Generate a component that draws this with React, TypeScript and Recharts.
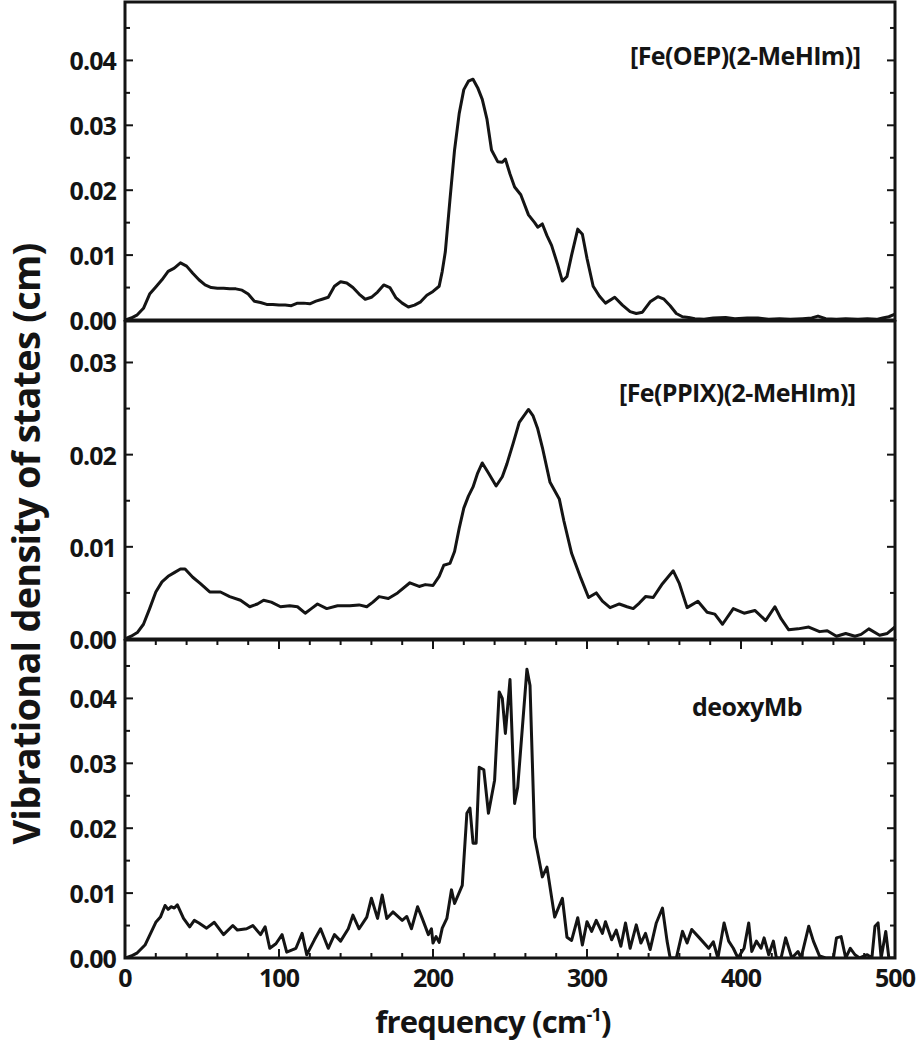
import React from "react";
import { LineChart, Line, XAxis, YAxis, ReferenceArea } from "recharts";

// frequency grid + VDOS values (cm^-1, cm)
const oepFreq = [0, 4, 8, 12, 16, 20, 24, 28, 32, 36, 40, 44, 48, 52, 56, 60, 64, 68, 72, 76, 80, 84, 88, 92, 96, 100, 104, 108, 112, 116, 120, 124, 128, 132, 136, 140, 144, 148, 152, 156, 160, 164, 168, 172, 176, 180, 184, 188, 192, 196, 200, 204, 206, 208, 211, 214, 217, 220, 223, 226, 229, 232, 235, 238, 242, 245, 247, 250, 253, 257, 262, 266, 268, 271, 274, 277, 281, 284, 287, 290, 294, 297, 300, 304, 308, 312, 318, 323, 328, 332, 336, 341, 346, 350, 354, 358, 362, 366, 370, 376, 382, 390, 396, 404, 411, 418, 425, 432, 440, 446, 450, 455, 462, 468, 476, 482, 488, 492, 496, 500];
const oepVdos = [0, 0.0003, 0.0008, 0.0018, 0.004, 0.0051, 0.0062, 0.0075, 0.008, 0.0088, 0.0083, 0.0072, 0.0062, 0.0054, 0.005, 0.0049, 0.0049, 0.0048, 0.0048, 0.0046, 0.004, 0.0029, 0.0027, 0.0024, 0.0024, 0.0023, 0.0023, 0.0022, 0.0026, 0.0026, 0.0025, 0.0029, 0.0032, 0.0035, 0.0052, 0.0059, 0.0057, 0.005, 0.004, 0.0032, 0.0035, 0.0043, 0.0054, 0.005, 0.0034, 0.0026, 0.002, 0.0023, 0.0028, 0.0038, 0.0044, 0.0052, 0.0075, 0.0105, 0.0185, 0.0262, 0.0318, 0.0355, 0.0368, 0.0371, 0.0358, 0.034, 0.031, 0.0262, 0.0244, 0.0243, 0.0248, 0.0225, 0.0205, 0.0193, 0.0162, 0.015, 0.0143, 0.0148, 0.013, 0.0115, 0.0085, 0.006, 0.0067, 0.01, 0.014, 0.0132, 0.0095, 0.0052, 0.0037, 0.0026, 0.0035, 0.0023, 0.0013, 0.001, 0.0012, 0.0028, 0.0036, 0.0032, 0.0022, 0.001, 0.0005, 0.0004, 0.0002, 0.0001, 0.0003, 0.0004, 0.0002, 0.0003, 0.0003, 0.0001, 0.0002, 0.0001, 0.0002, 0.0003, 0.0006, 0.0002, 0.0001, 0.0002, 0.0001, 0.0002, 0.0001, 0.0003, 0.0005, 0.0009];

const ppixFreq = [0, 4, 8, 12, 16, 20, 24, 28, 32, 36, 39, 44, 49, 55, 62, 68, 75, 81, 86, 90, 95, 101, 107, 112, 117, 121, 125, 131, 138, 146, 152, 157, 161, 165, 171, 177, 185, 191, 195, 200, 204, 207, 211, 214, 217, 220, 223, 226, 229, 232, 236, 241, 245, 248, 252, 256, 262, 265, 268, 271, 276, 282, 285, 290, 296, 301, 306, 310, 315, 321, 326, 330, 334, 338, 343, 349, 356, 360, 365, 372, 378, 383, 388, 395, 402, 409, 416, 422, 426, 431, 437, 444, 451, 456, 462, 468, 474, 478, 483, 490, 495, 500];
const ppixVdos = [0, 0.0003, 0.0007, 0.0016, 0.0033, 0.0051, 0.0062, 0.0068, 0.0072, 0.0076, 0.0076, 0.0067, 0.006, 0.0051, 0.0051, 0.0046, 0.0042, 0.0035, 0.0038, 0.0042, 0.004, 0.0035, 0.0036, 0.0035, 0.0028, 0.0033, 0.0038, 0.0033, 0.0036, 0.0036, 0.0037, 0.0035, 0.004, 0.0046, 0.0044, 0.005, 0.0061, 0.0057, 0.0059, 0.0058, 0.0068, 0.008, 0.0082, 0.0095, 0.012, 0.0142, 0.0155, 0.0165, 0.018, 0.0191, 0.018, 0.0166, 0.0176, 0.019, 0.0212, 0.0235, 0.0249, 0.0242, 0.0228, 0.0208, 0.017, 0.0152, 0.0128, 0.0093, 0.0066, 0.0045, 0.005, 0.0041, 0.0034, 0.0038, 0.0035, 0.0033, 0.0039, 0.0046, 0.0045, 0.006, 0.0074, 0.006, 0.0034, 0.0041, 0.0029, 0.0027, 0.0016, 0.0033, 0.0028, 0.0031, 0.002, 0.0035, 0.0022, 0.001, 0.0011, 0.0013, 0.0008, 0.0009, 0.0003, 0.0006, 0.0003, 0.0005, 0.0011, 0.0004, 0.0006, 0.0013];

const deoxyFreq = [0, 4, 8, 13, 17, 20, 23, 26, 28, 30, 32, 34, 38, 42, 45, 48, 53, 58, 64, 70, 73, 79, 83, 88, 91, 94, 98, 102, 105, 111, 115, 118, 123, 127, 132, 136, 140, 145, 148, 152, 157, 160, 164, 167, 170, 174, 180, 183, 186, 190, 193, 197, 199, 200, 202, 204, 206, 209, 212, 214, 219, 222, 224, 226, 228, 230, 233, 236, 240, 243, 245, 247, 250, 253, 255, 261, 263, 266, 271, 274, 279, 284, 287, 290, 294, 297, 300, 303, 306, 310, 312, 316, 319, 322, 325, 328, 332, 335, 338, 341, 345, 349, 352, 354, 358, 362, 365, 368, 373, 379, 382, 385, 389, 392, 395, 398, 402, 405, 407, 410, 413, 415, 418, 421, 423, 426, 429, 433, 437, 439, 444, 447, 451, 455, 460, 462, 465, 468, 471, 474, 477, 482, 485, 487, 489, 491, 494, 496, 499, 500];
const deoxyVdos = [0, 0.0003, 0.0008, 0.002, 0.004, 0.0055, 0.0063, 0.0081, 0.0075, 0.0079, 0.0077, 0.0082, 0.0061, 0.0048, 0.0058, 0.0054, 0.0046, 0.0055, 0.0036, 0.005, 0.0043, 0.0045, 0.005, 0.0036, 0.0048, 0.0015, 0.0022, 0.0036, 0.0009, 0.0015, 0.0038, 0.0005, 0.0028, 0.0045, 0.0015, 0.0036, 0.0026, 0.0045, 0.0066, 0.0045, 0.0063, 0.0092, 0.0061, 0.0097, 0.0061, 0.0071, 0.0058, 0.0064, 0.0045, 0.0079, 0.0061, 0.0036, 0.0045, 0.0023, 0.0033, 0.0024, 0.0046, 0.0061, 0.0105, 0.0084, 0.0112, 0.0223, 0.0231, 0.0177, 0.0177, 0.0294, 0.029, 0.0223, 0.0274, 0.041, 0.04, 0.0346, 0.0429, 0.0238, 0.0263, 0.0445, 0.042, 0.0186, 0.0125, 0.014, 0.0063, 0.0092, 0.0032, 0.0027, 0.0062, 0.002, 0.0056, 0.0041, 0.0058, 0.0038, 0.0056, 0.0028, 0.0043, 0.0018, 0.0054, 0.0015, 0.0051, 0.0023, 0.0038, 0.0013, 0.0054, 0.0077, 0.0026, 0, 0, 0.0041, 0.0023, 0.0044, 0.0031, 0.0015, 0.0025, 0, 0.0054, 0.0026, 0.0015, 0, 0.0015, 0.0054, 0.001, 0.0026, 0.0015, 0.0031, 0.0005, 0.0026, 0, 0, 0.0031, 0, 0.001, 0, 0.0049, 0.0026, 0.0003, 0, 0, 0.0031, 0.0033, 0, 0.0015, 0.0005, 0, 0.0005, 0, 0.0049, 0.0054, 0, 0.0041, 0, 0, 0];

const freqTicks = [0, 20, 40, 60, 80, 100, 120, 140, 160, 180, 200, 220, 240, 260, 280, 300, 320, 340, 360, 380, 400, 420, 440, 460, 480, 500];
const ticksTall = [0, 0.005, 0.01, 0.015, 0.02, 0.025, 0.03, 0.035, 0.04, 0.045];
const ticksShort = [0, 0.005, 0.01, 0.015, 0.02, 0.025, 0.03];

const INK = "#141414";
const FONT = "'Open Sans', 'DejaVu Sans', sans-serif";
const W = 917;
const Y_W = 125;
const PLOT_W = 770;
const PLOT_H = 318;
const MARGIN = 9;

const zip = (xs: number[], ys: number[]) => xs.map((f, i) => ({ f, v: ys[i] }));

const YTick = (p: any) => {
  const v = p.payload.value;
  const y = p.payload.coordinate;
  const ax = p.x + MARGIN;
  const major = Math.round(v * 1000) % 10 === 0;
  const len = major ? 8 : 5;
  return (
    <g>
      <line x1={ax} x2={ax + len} y1={y} y2={y} stroke={INK} strokeWidth={2} />
      <line x1={ax + PLOT_W} x2={ax + PLOT_W - len} y1={y} y2={y} stroke={INK} strokeWidth={2} />
      {major && (
        <text x={p.x} y={y} textAnchor="end" dominantBaseline="central" fontFamily={FONT}
          fontWeight={700} fontSize={25} letterSpacing={-0.9} fill={INK}>
          {v.toFixed(2)}
        </text>
      )}
    </g>
  );
};

const XTick = (p: any, showLabel: boolean) => {
  const v = p.payload.value;
  const x = p.payload.coordinate;
  const ay = p.y - MARGIN;
  const major = v % 100 === 0;
  const len = major ? 9 : 5;
  return (
    <g>
      <line x1={x} x2={x} y1={ay} y2={ay - len} stroke={INK} strokeWidth={2} />
      <line x1={x} x2={x} y1={ay - PLOT_H} y2={ay - PLOT_H + len} stroke={INK} strokeWidth={2} />
      {showLabel && major && (
        <text x={x} y={ay + 29} textAnchor="middle" fontFamily={FONT} fontWeight={700}
          fontSize={25} letterSpacing={-0.9} fill={INK}>
          {v}
        </text>
      )}
    </g>
  );
};

type PanelProps = {
  rows: { f: number; v: number }[];
  top: number;
  marginTop: number;
  yMax: number;
  yTicks: number[];
  xLabels?: boolean;
};

function Panel({ rows, top, marginTop, yMax, yTicks, xLabels }: PanelProps) {
  const axisH = xLabels ? 92 : 0;
  // extra bottom room so the "0.00" label is not clipped by the svg edge
  const padBottom = xLabels ? 0 : 22;
  return (
    <div style={{ position: "absolute", left: 0, top }}>
      <LineChart width={W} height={marginTop + PLOT_H + axisH + padBottom} data={rows}
        margin={{ top: marginTop, right: W - Y_W - PLOT_W, bottom: padBottom, left: 0 }}>
        <XAxis dataKey="f" type="number" domain={[0, 500]} ticks={freqTicks} interval={0}
          height={axisH} tickSize={0} tickMargin={MARGIN} axisLine={false} tickLine={false}
          allowDataOverflow tick={(p: any) => XTick(p, !!xLabels)} />
        <YAxis type="number" domain={[0, yMax]} ticks={yTicks} interval={0} width={Y_W}
          tickSize={0} tickMargin={MARGIN} axisLine={false} tickLine={false}
          allowDataOverflow tick={(p: any) => YTick(p)} />
        <ReferenceArea x1={0} x2={500} y1={0} y2={yMax} fill="none" stroke={INK} strokeWidth={3} />
        <Line dataKey="v" type="linear" stroke={INK} strokeWidth={3} dot={false}
          isAnimationActive={false} strokeLinejoin="round" />
      </LineChart>
    </div>
  );
}

export default function App() {
  const textStyle = { fontFamily: FONT, fontWeight: 700, fill: INK } as const;
  return (
    <div style={{ position: "absolute", left: 0, top: 0, width: W, height: 1050, background: "#fff" }}>
      <Panel rows={zip(oepFreq, oepVdos)} top={0} marginTop={2} yMax={0.049} yTicks={ticksTall} />
      <Panel rows={zip(ppixFreq, ppixVdos)} top={320} marginTop={1} yMax={0.0345} yTicks={ticksShort} />
      <Panel rows={zip(deoxyFreq, deoxyVdos)} top={639} marginTop={1} yMax={0.049} yTicks={ticksTall} xLabels />
      <svg width={W} height={1050} style={{ position: "absolute", left: 0, top: 0, pointerEvents: "none" }}>
        <text {...textStyle} x={630} y={65} fontSize={25} letterSpacing={-0.6}>[Fe(OEP)(2-MeHIm)]</text>
        <text {...textStyle} x={619} y={402} fontSize={25} letterSpacing={-0.6}>[Fe(PPIX)(2-MeHIm)]</text>
        <text {...textStyle} x={692} y={716} fontSize={25} letterSpacing={-0.6}>deoxyMb</text>
        <text {...textStyle} x={493} y={1033} fontSize={31} textAnchor="middle" letterSpacing={-0.8}>
          frequency (cm<tspan dy={-12} fontSize={18}>-1</tspan><tspan dy={12}>)</tspan>
        </text>
        <text {...textStyle} fontSize={38} textAnchor="middle" dominantBaseline="central" letterSpacing={-0.8}
          transform="translate(25 544) rotate(-90)">
          Vibrational density of states (cm)
        </text>
      </svg>
    </div>
  );
}
